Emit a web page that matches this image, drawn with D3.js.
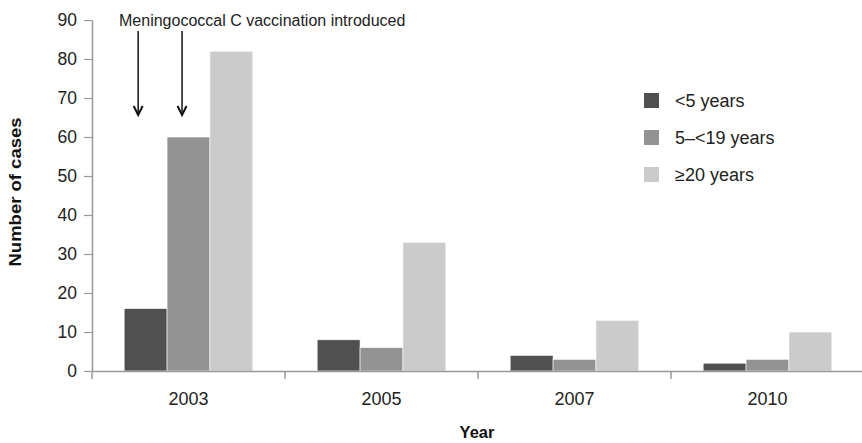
<!DOCTYPE html>
<html>
<head>
<meta charset="utf-8">
<script src="https://cdn.jsdelivr.net/npm/d3@7"></script>
<style>
  body { margin: 0; background: #fff; }
  svg { font-family: "Liberation Sans", Arial, sans-serif; display: block; }
</style>
</head>
<body>
<svg id="chart"></svg>
<script>
var years = ["2003", "2005", "2007", "2010"];
var groups = ["<5 years", "5\u2013<19 years", "\u226520 years"];
var under5 = [16, 8, 4, 2];
var age5to19 = [60, 6, 3, 3];
var over20 = [82, 33, 13, 10];
var yTicks = [0, 10, 20, 30, 40, 50, 60, 70, 80, 90];
var colors = ["#505050", "#939393", "#cbcbcb"];
var arrowYears = ["2003", "2003"];
var note = "Meningococcal C vaccination introduced";

var dimensions = {
  width: 862,
  height: 443,
  margin: { top: 20, right: -2, bottom: 72, left: 92 },
};

var svg = d3
  .select("#chart")
  .attr("width", dimensions.width)
  .attr("height", dimensions.height);

var series = [under5, age5to19, over20];
var data = years.map((y, i) => {
  return { year: y, values: series.map((s) => s[i]) };
});

var xScale = d3
  .scaleBand()
  .domain(years)
  .range([dimensions.margin.left, dimensions.width - dimensions.margin.right])
  .paddingInner(0)
  .paddingOuter(0);

var innerScale = d3
  .scaleBand()
  .domain(d3.range(groups.length))
  .range([0, xScale.bandwidth()])
  .paddingOuter(0.75);

var yScale = d3
  .scaleLinear()
  .domain([0, 90])
  .range([dimensions.height - dimensions.margin.bottom, dimensions.margin.top]);

// bars
var groupG = svg
  .selectAll("g.year")
  .data(data)
  .enter()
  .append("g")
  .attr("class", "year")
  .attr("transform", (d) => `translate(${xScale(d.year)},0)`);

groupG
  .selectAll("rect")
  .data((d) => d.values)
  .enter()
  .append("rect")
  .attr("x", (d, i) => innerScale(i))
  .attr("width", innerScale.bandwidth())
  .attr("y", (d) => yScale(d))
  .attr("height", (d) => yScale(0) - yScale(d))
  .attr("fill", (d, i) => colors[i])
  .attr("stroke", "#fff")
  .attr("stroke-width", 0.6);

// axes
var yAxis = svg
  .append("g")
  .attr("class", "y")
  .attr("transform", `translate(${dimensions.margin.left},0)`)
  .call(d3.axisLeft(yScale).tickValues(yTicks).tickSize(8).tickPadding(7).tickSizeOuter(0));

var xAxis = svg
  .append("g")
  .attr("class", "x")
  .attr("transform", `translate(0,${yScale(0)})`)
  .call(d3.axisBottom(xScale).tickSize(0).tickPadding(21));

// x ticks between bands
svg
  .append("g")
  .selectAll("line")
  .data(years)
  .enter()
  .append("line")
  .attr("x1", (d) => xScale(d))
  .attr("x2", (d) => xScale(d))
  .attr("y1", yScale(0))
  .attr("y2", yScale(0) + 8)
  .attr("stroke", "#999")
  .attr("stroke-width", 1.5);

svg.selectAll(".domain").attr("stroke", "#999").attr("stroke-width", 1.5);
svg.selectAll(".tick line").attr("stroke", "#999").attr("stroke-width", 1.2);
svg.selectAll(".tick text").attr("fill", "#222");
yAxis.selectAll(".tick text").style("font-size", "17.5px");
xAxis.selectAll(".tick text").style("font-size", "18px");

// axis titles
svg
  .append("text")
  .attr("transform", "translate(21,192) rotate(-90)")
  .attr("text-anchor", "middle")
  .style("font-size", "16.5px")
  .style("font-weight", "bold")
  .attr("fill", "#111")
  .attr("textLength", 149)
  .attr("lengthAdjust", "spacingAndGlyphs")
  .text("Number of cases");

svg
  .append("text")
  .attr("x", 477)
  .attr("y", 438)
  .attr("text-anchor", "middle")
  .style("font-size", "16.5px")
  .style("font-weight", "bold")
  .attr("fill", "#111")
  .text("Year");

// annotation
svg
  .append("text")
  .attr("x", 119)
  .attr("y", 26)
  .style("font-size", "16px")
  .attr("fill", "#222")
  .text(note);

var arrowX = [
  xScale(arrowYears[0]) + innerScale(0) + 14,
  xScale(arrowYears[1]) + innerScale(1) + 15,
];
var arrows = svg.append("g").attr("stroke", "#111").attr("fill", "none");
arrowX.forEach((x) => {
  arrows
    .append("line")
    .attr("x1", x)
    .attr("x2", x)
    .attr("y1", 31)
    .attr("y2", 114)
    .attr("stroke-width", 1.5);
  arrows
    .append("path")
    .attr("d", `M${x - 4.5},${106} L${x},${115} L${x + 4.5},${106}`)
    .attr("stroke-width", 2);
});

// legend
var legend = svg
  .selectAll("g.legend")
  .data(groups)
  .enter()
  .append("g")
  .attr("class", "legend")
  .attr("transform", (d, i) => `translate(644,${93 + i * 37})`);

legend
  .append("rect")
  .attr("width", 15)
  .attr("height", 15)
  .attr("fill", (d, i) => colors[i]);

legend
  .append("text")
  .attr("x", 31)
  .attr("y", 14)
  .style("font-size", "18px")
  .attr("fill", "#222")
  .text((d) => d);
</script>
</body>
</html>
